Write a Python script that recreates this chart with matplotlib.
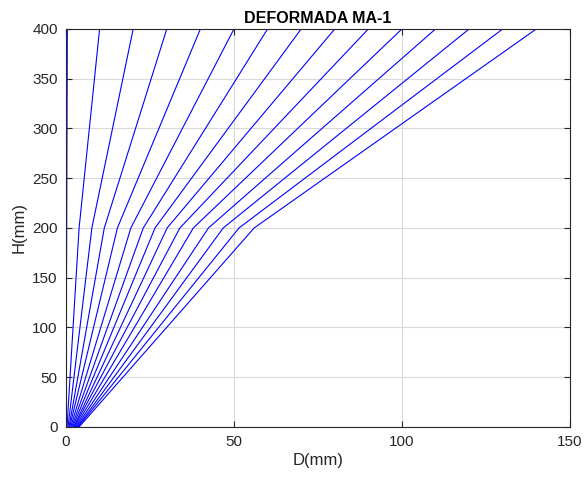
import matplotlib.pyplot as plt

# Desplazamientos (mm) por incremento de carga: base, mitad (H=200), tope (H=400)
alturas = [0, 200, 400]
d_base = [0.0, 0.3, 0.6, 0.9, 1.1, 1.4, 1.7, 2.0, 2.3, 2.5, 2.8, 3.1, 3.4, 3.6, 3.9]
d_medio = [0.2, 3.9, 7.7, 11.4, 15.3, 19.3, 23.0, 26.5, 30.1, 33.9, 37.9, 42.4, 46.8, 51.5, 56.0]
d_tope = [0.4, 10, 20, 30, 40, 50, 60, 70, 80, 90, 100, 110, 120, 130, 140]

plt.rcParams['font.family'] = ['Liberation Sans', 'DejaVu Sans']

fig = plt.figure(figsize=(5.84, 4.79), dpi=100)
ax = fig.add_axes([0.113, 0.1086, 0.863, 0.831])

for b, m, t in zip(d_base, d_medio, d_tope):
    ax.plot([b, m, t], alturas, color='#0000FF', linewidth=0.8)

ax.set_xlim(0, 150)
ax.set_ylim(0, 400)
ax.set_xticks([0, 50, 100, 150])
ax.set_yticks(range(0, 401, 50))
ax.grid(True, color='#d9d9d9', linewidth=0.8)
ax.set_axisbelow(True)
ax.tick_params(direction='in', length=4, labelsize=11, pad=6, colors='#262626', top=True, right=True)
for s in ax.spines.values():
    s.set_color('#262626')
    s.set_linewidth(0.8)

ax.set_title('DEFORMADA MA-1', fontsize=11.5, fontweight='bold', pad=4)
ax.set_xlabel('D(mm)', fontsize=12, color='#262626', labelpad=3)
ax.set_ylabel('H(mm)', fontsize=12, color='#262626', labelpad=4)

fig.savefig('out.png', dpi=100)
